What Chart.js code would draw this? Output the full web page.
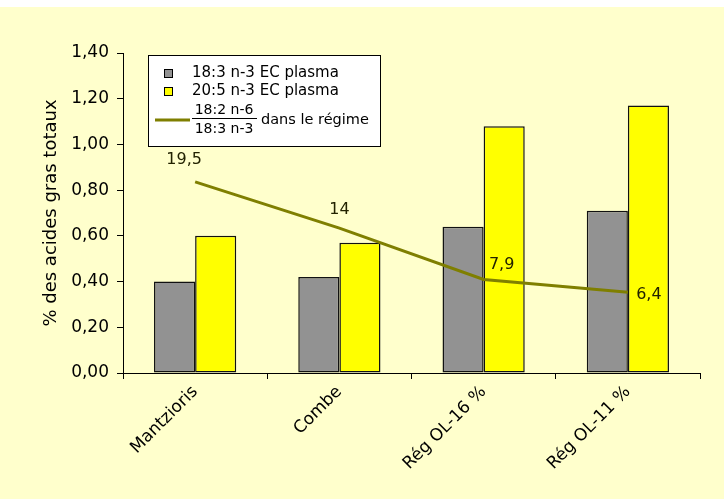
<!DOCTYPE html>
<html>
<head>
<meta charset="utf-8">
<script src="https://cdn.jsdelivr.net/npm/chart.js@4.4.1/dist/chart.umd.min.js"></script>
<style>
  html, body { margin: 0; padding: 0; background: #fff; }
</style>
</head>
<body>
<canvas id="myChart" width="724" height="499"></canvas>
<script>
// data
var categories = ['Mantzioris', 'Combe', 'Rég OL-16 %', 'Rég OL-11 %'];
var ala = [0.40, 0.42, 0.64, 0.71];       // 18:3 n-3 EC plasma
var epa = [0.60, 0.57, 1.08, 1.17];       // 20:5 n-3 EC plasma
var ratio = [19.5, 14, 7.9, 6.4];         // 18:2 n-6 / 18:3 n-3 dans le régime
var ratioText = ['19,5', '14', '7,9', '6,4'];
var yTicks = [0, 0.2, 0.4, 0.6, 0.8, 1.0, 1.2, 1.4];

var FONT = '"DejaVu Sans", sans-serif';

var background = {
  id: 'background',
  beforeDraw: function (chart) {
    var ctx = chart.ctx;
    ctx.save();
    ctx.fillStyle = '#ffffff';
    ctx.fillRect(0, 0, chart.width, chart.height);
    ctx.fillStyle = '#ffffcc';
    ctx.fillRect(0, 7, chart.width, chart.height - 7);
    ctx.restore();
  }
};

// ratio values written next to the line
var labelOffsets = [[-11, -22], [0, -18], [18, -15], [21, 3]];
var pointLabels = {
  id: 'pointLabels',
  afterDatasetsDraw: function (chart) {
    var ctx = chart.ctx;
    var meta = chart.getDatasetMeta(2);
    ctx.save();
    ctx.font = '16px ' + FONT;
    ctx.fillStyle = '#222200';
    ctx.textAlign = 'center';
    ctx.textBaseline = 'middle';
    meta.data.forEach(function (pt, i) {
      ctx.fillText(ratioText[i], pt.x + labelOffsets[i][0], pt.y + labelOffsets[i][1]);
    });
    ctx.restore();
  }
};

// legend box with the fraction
var legendBox = {
  id: 'legendBox',
  afterDraw: function (chart) {
    var ctx = chart.ctx;
    var ds = chart.data.datasets;
    ctx.save();
    ctx.fillStyle = '#fff';
    ctx.strokeStyle = '#000';
    ctx.lineWidth = 1;
    ctx.fillRect(148.5, 55.5, 232, 91);
    ctx.strokeRect(148.5, 55.5, 232, 91);
    ctx.font = '15px ' + FONT;
    ctx.textBaseline = 'middle';
    ctx.textAlign = 'left';
    [ds[0], ds[1]].forEach(function (d, i) {
      var y = 69.5 + i * 18;
      ctx.fillStyle = d.backgroundColor;
      ctx.fillRect(164.5, y, 8, 8);
      ctx.strokeStyle = '#000';
      ctx.strokeRect(164.5, y, 8, 8);
      ctx.fillStyle = '#000';
      ctx.fillText(d.label, 192, y + 4);
    });
    ctx.strokeStyle = ds[2].borderColor;
    ctx.lineWidth = 3;
    ctx.beginPath();
    ctx.moveTo(155, 120);
    ctx.lineTo(190, 120);
    ctx.stroke();
    ctx.font = '14px ' + FONT;
    ctx.fillStyle = '#000';
    ctx.textAlign = 'center';
    ctx.fillText('18:2 n-6', 224, 110);
    ctx.fillText('18:3 n-3', 224, 129);
    ctx.strokeStyle = '#000';
    ctx.lineWidth = 1;
    ctx.beginPath();
    ctx.moveTo(192, 118.5);
    ctx.lineTo(257, 118.5);
    ctx.stroke();
    ctx.textAlign = 'left';
    ctx.font = '14.5px ' + FONT;
    ctx.fillText('dans le régime', 261, 120);
    ctx.restore();
  }
};

var ctx = document.getElementById('myChart').getContext('2d');
var chart = new Chart(ctx, {
  type: 'bar',
  data: {
    labels: categories,
    datasets: [{
      label: '18:3 n-3 EC plasma',
      data: ala,
      backgroundColor: '#929292',
      borderColor: '#111',
      borderWidth: 1.5,
      borderSkipped: false,
      order: 1
    }, {
      label: '20:5 n-3 EC plasma',
      data: epa,
      backgroundColor: '#ffff00',
      borderColor: '#111',
      borderWidth: 1.5,
      borderSkipped: false,
      order: 1
    }, {
      type: 'line',
      label: '18:2 n-6 / 18:3 n-3 dans le régime',
      data: ratio,
      yAxisID: 'y2',
      borderColor: '#7f7f00',
      borderWidth: 3,
      pointRadius: 0,
      tension: 0,
      fill: false,
      order: 0
    }]
  },
  options: {
    responsive: false,
    animation: false,
    devicePixelRatio: 1,
    datasets: { bar: { categoryPercentage: 0.57, barPercentage: 1 } },
    layout: { padding: { top: 53, right: 24, bottom: 0, left: 0 } },
    plugins: { legend: { display: false }, tooltip: { enabled: false } },
    scales: {
      x: {
        grid: { display: true, drawOnChartArea: false, tickLength: 6, color: '#000', offset: true },
        border: { color: '#000', width: 1 },
        ticks: {
          color: '#000', font: { family: FONT, size: 17 },
          maxRotation: 45, minRotation: 45, padding: 3
        },
        afterFit: function (s) { s.height = 126; }
      },
      y: {
        min: 0, max: 1.4,
        afterBuildTicks: function (s) { s.ticks = yTicks.map(function (v) { return { value: v }; }); },
        grid: { display: true, drawOnChartArea: false, tickLength: 6, color: '#000' },
        border: { color: '#000', width: 1 },
        ticks: {
          color: '#000', font: { family: FONT, size: 17 }, padding: 8,
          callback: function (v) { return v.toFixed(2).replace('.', ','); }
        },
        title: {
          display: true, text: '% des acides gras totaux', color: '#000',
          font: { family: FONT, size: 18 }, padding: { top: 41, bottom: 0 }
        },
        afterFit: function (s) { s.width = 123; }
      },
      y2: {
        display: false,
        min: -3.2, max: 34.8
      }
    }
  },
  plugins: [background, pointLabels, legendBox]
});
</script>
</body>
</html>
